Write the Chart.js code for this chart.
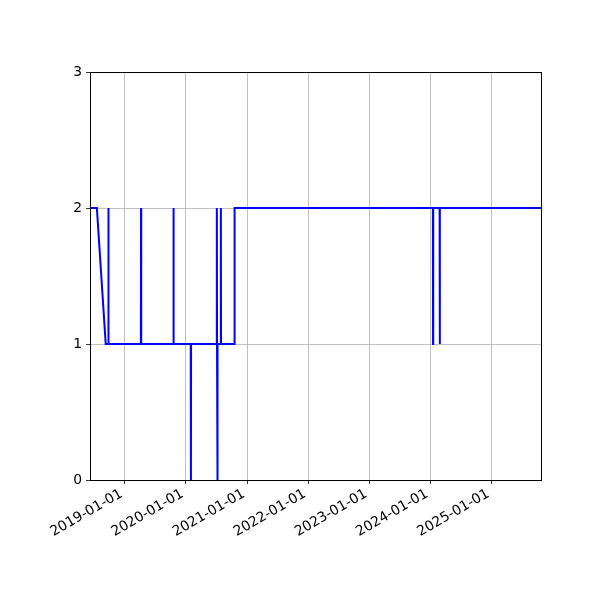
<!DOCTYPE html>
<html>
<head>
<meta charset="utf-8">
<script src="https://cdn.jsdelivr.net/npm/chart.js@4"></script>
<style>
  body { margin: 0; background: #fff; }
  canvas { display: block; }
</style>
</head>
<body>
<canvas id="chart" width="600" height="600"></canvas>
<script>
// data (daily samples around each jump)
const dates = [
  '2018-06-07', '2018-07-18', '2018-09-09', '2018-09-24', '2018-09-25', '2018-09-26',
  '2019-04-07', '2019-04-08', '2019-04-09', '2019-10-18', '2019-10-19', '2019-10-20',
  '2020-01-30', '2020-01-31', '2020-02-01', '2020-07-03', '2020-07-04', '2020-07-05',
  '2020-07-07', '2020-07-08', '2020-07-09', '2020-07-27', '2020-07-28', '2020-07-29',
  '2020-10-17', '2020-10-18', '2024-01-16', '2024-01-17', '2024-01-18',
  '2024-02-25', '2024-02-26', '2024-02-27', '2025-10-23'
];
const values = [
  2, 2, 1, 1, 2, 1,
  1, 2, 1, 1, 2, 1,
  1, 0, 1, 1, 2, 1,
  1, 0, 1, 1, 2, 1,
  1, 2, 2, 1, 2,
  2, 1, 2, 2
];
const tickYears = [2019, 2020, 2021, 2022, 2023, 2024, 2025];
const yTicks = [0, 1, 2, 3];

const points = dates.map((d, i) => ({ x: Date.parse(d), y: values[i] }));
const FONT = '13.9px "DejaVu Sans"';

function fmtDate(ms) {
  const d = new Date(ms);
  const mm = String(d.getUTCMonth() + 1).padStart(2, '0');
  const dd = String(d.getUTCDate()).padStart(2, '0');
  return d.getUTCFullYear() + '-' + mm + '-' + dd;
}

// black frame on all four sides + rotated date labels placed like matplotlib
const frame = {
  id: 'frame',
  afterDraw(chart) {
    const a = chart.chartArea;
    const ctx = chart.ctx;
    ctx.save();
    ctx.strokeStyle = '#000';
    ctx.lineWidth = 1;
    ctx.strokeRect(Math.round(a.left) + 0.5, Math.round(a.top) + 0.5,
      Math.round(a.right - a.left), Math.round(a.bottom - a.top));

    const xs = chart.scales.x;
    ctx.font = FONT;
    ctx.fillStyle = '#000';
    ctx.textAlign = 'right';
    ctx.textBaseline = 'alphabetic';
    xs.ticks.forEach(t => {
      const px = xs.getPixelForValue(t.value);
      ctx.save();
      ctx.translate(px - 1.5, a.bottom + 16);
      ctx.rotate(-Math.PI / 6);
      ctx.fillText(fmtDate(t.value), 0, 0);
      ctx.restore();
    });
    ctx.restore();
  }
};

Chart.defaults.font.family = 'DejaVu Sans';
Chart.defaults.font.size = 13.9;
Chart.defaults.color = '#000';

new Chart(document.getElementById('chart'), {
  type: 'line',
  data: {
    datasets: [{
      data: points,
      borderColor: 'blue',
      borderWidth: 2,
      pointRadius: 0,
      tension: 0,
      fill: false
    }]
  },
  options: {
    responsive: false,
    animation: false,
    layout: { padding: { top: 72, right: 59, left: 0, bottom: 0 } },
    plugins: { legend: { display: false }, tooltip: { enabled: false } },
    scales: {
      x: {
        type: 'linear',
        min: Date.parse(dates[0]),
        max: Date.parse(dates[dates.length - 1]),
        afterBuildTicks: (scale) => {
          scale.ticks = tickYears.map(y => ({ value: Date.UTC(y, 0, 1) }));
        },
        afterFit: (scale) => { scale.height = 120; },
        ticks: {
          minRotation: 30,
          maxRotation: 30,
          autoSkip: false,
          color: 'rgba(0,0,0,0)',
          callback: (v) => fmtDate(v)
        },
        grid: { color: '#b0b0b0', lineWidth: 0.8, tickColor: '#000', tickLength: 4 },
        border: { color: '#000' }
      },
      y: {
        min: 0,
        max: 3,
        afterBuildTicks: (scale) => {
          scale.ticks = yTicks.map(v => ({ value: v }));
        },
        afterFit: (scale) => { scale.width = 90; },
        ticks: { padding: 4 },
        grid: { color: '#b0b0b0', lineWidth: 0.8, tickColor: '#000', tickLength: 4 },
        border: { color: '#000' }
      }
    }
  },
  plugins: [frame]
});
</script>
</body>
</html>
